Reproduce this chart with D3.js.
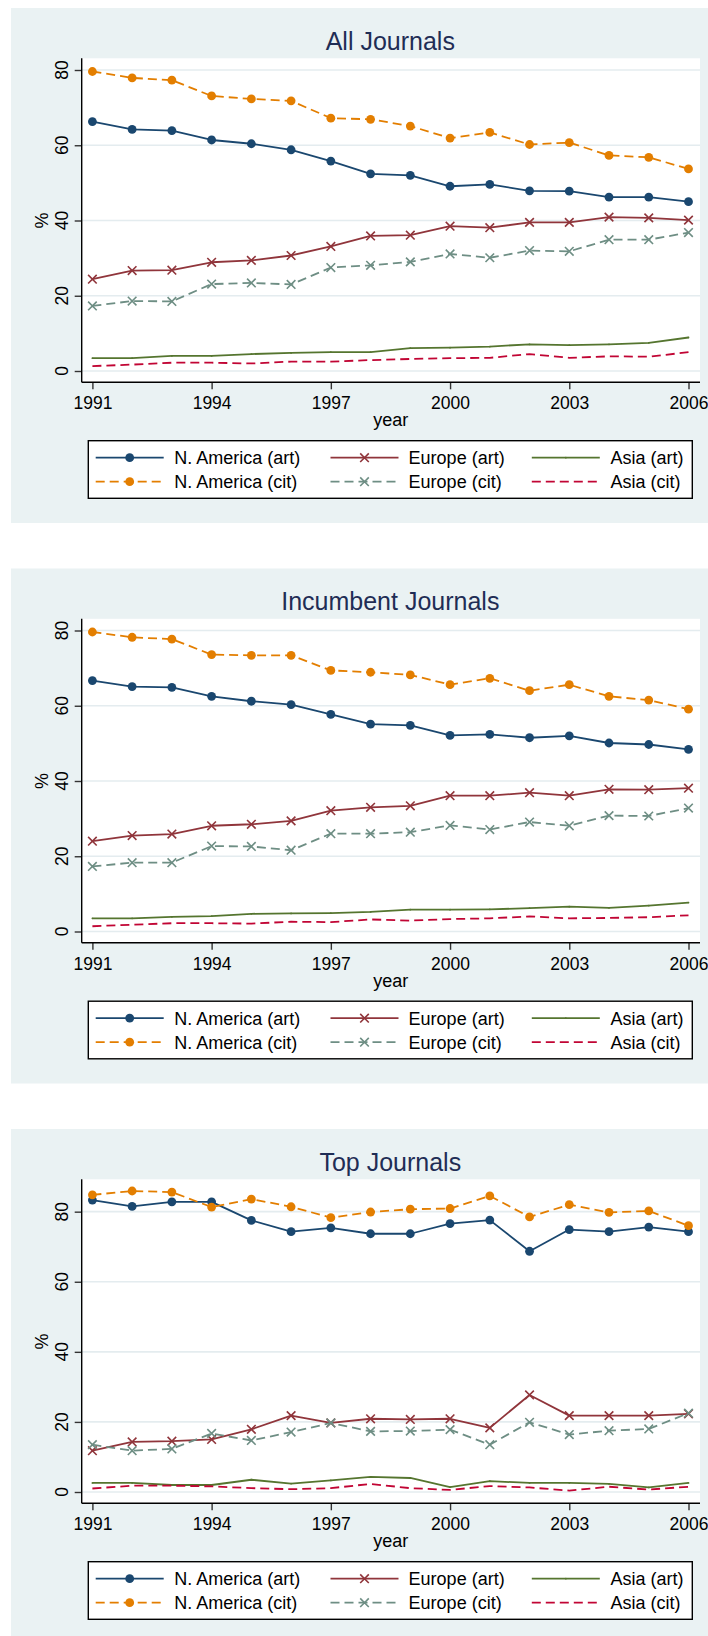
<!DOCTYPE html>
<html>
<head>
<meta charset="utf-8">
<script src="https://cdn.jsdelivr.net/npm/d3@7"></script>
<style>
  html, body { margin: 0; padding: 0; background: #ffffff; }
  svg { display: block; }
  text { font-family: "Liberation Sans", Arial, sans-serif; }
</style>
</head>
<body>
<svg id="chart" width="708" height="1636"></svg>
<script>
// ---------------- DATA ----------------
const years = [1991,1992,1993,1994,1995,1996,1997,1998,1999,2000,2001,2002,2003,2004,2005,2006];
const xTickYears = [1991,1994,1997,2000,2003,2006];
const yTicks = [0,20,40,60,80];
const panelTitles = ["All Journals", "Incumbent Journals", "Top Journals"];
const seriesNames = ["N. America (art)", "Europe (art)", "Asia (art)", "N. America (cit)", "Europe (cit)", "Asia (cit)"];

// All Journals
const allNAart = [66.3,64.2,63.9,61.4,60.4,58.8,55.8,52.4,52.0,49.1,49.6,47.9,47.8,46.2,46.2,45.0];
const allEUart = [24.4,26.7,26.8,28.9,29.4,30.7,33.1,35.9,36.1,38.5,38.1,39.5,39.5,40.9,40.7,40.1];
const allASart = [3.4,3.4,4.0,4.0,4.5,4.8,5.0,5.0,6.1,6.2,6.5,7.1,6.9,7.1,7.5,8.9];
const allNAcit = [79.6,77.9,77.3,73.1,72.3,71.8,67.2,66.9,65.1,61.9,63.4,60.2,60.7,57.3,56.8,53.7];
const allEUcit = [17.3,18.6,18.5,23.1,23.4,23.0,27.5,28.1,29.0,31.1,30.1,32.0,31.8,34.9,34.9,36.8];
const allAScit = [1.3,1.7,2.2,2.2,2.0,2.5,2.5,2.9,3.2,3.4,3.5,4.5,3.5,3.9,3.8,5.0];

// Incumbent Journals
const incNAart = [66.7,65.1,64.9,62.5,61.2,60.3,57.7,55.1,54.8,52.1,52.4,51.5,52.0,50.1,49.7,48.4];
const incEUart = [24.0,25.5,25.9,28.1,28.5,29.4,32.1,33.0,33.4,36.1,36.1,36.9,36.1,37.8,37.7,38.1];
const incASart = [3.5,3.5,3.9,4.1,4.7,4.8,4.9,5.2,5.8,5.8,5.9,6.2,6.6,6.3,6.9,7.7];
const incNAcit = [79.6,78.2,77.7,73.6,73.4,73.4,69.4,68.9,68.2,65.6,67.3,64.0,65.6,62.5,61.5,59.1];
const incEUcit = [17.3,18.3,18.3,22.7,22.6,21.6,26.0,26.0,26.4,28.2,27.1,29.1,28.1,30.8,30.7,32.8];
const incAScit = [1.4,1.8,2.2,2.2,2.1,2.6,2.5,3.2,2.9,3.3,3.5,4.0,3.5,3.6,3.8,4.3];

// Top Journals
const topNAart = [83.3,81.5,82.8,82.8,77.5,74.3,75.4,73.7,73.7,76.6,77.6,68.7,74.9,74.3,75.6,74.3];
const topEUart = [11.8,14.3,14.5,15.0,17.9,21.8,19.7,20.9,20.7,20.9,18.3,27.7,21.8,21.8,21.8,22.3];
const topASart = [2.6,2.6,2.0,2.0,3.5,2.4,3.3,4.3,4.0,1.4,3.1,2.6,2.6,2.3,1.3,2.6];
const topNAcit = [84.8,85.9,85.6,81.3,83.6,81.4,78.3,79.9,80.7,80.9,84.5,78.5,82.0,79.8,80.2,76.0];
const topEUcit = [13.5,11.8,12.3,16.7,14.7,17.1,19.7,17.3,17.4,17.8,13.5,19.9,16.4,17.5,18.0,22.5];
const topAScit = [1.0,1.8,1.8,1.6,1.1,0.8,1.1,2.3,1.1,0.6,1.7,1.3,0.4,1.5,0.7,1.5];

// ---------------- STYLE ----------------
const styles = [
  { color: "#1a476f", dash: null,  marker: "circle" },
  { color: "#90353b", dash: null,  marker: "x" },
  { color: "#55752f", dash: null,  marker: "point" },
  { color: "#e37e00", dash: "9,5", marker: "circle" },
  { color: "#6e8e84", dash: "9,5", marker: "x" },
  { color: "#c10534", dash: "9,5", marker: "none" }
];

const panels = [
  { title: panelTitles[0], series: [allNAart, allEUart, allASart, allNAcit, allEUcit, allAScit] },
  { title: panelTitles[1], series: [incNAart, incEUart, incASart, incNAcit, incEUcit, incAScit] },
  { title: panelTitles[2], series: [topNAart, topEUart, topASart, topNAcit, topEUcit, topAScit] }
];

const svg = d3.select("#chart");
const panelStep = 560.5;
const font = 17.5;

function drawMarker(g, type, cx, cy, color) {
  if (type === "circle") {
    g.append("circle").attr("cx", cx).attr("cy", cy).attr("r", 4.4).attr("fill", color);
  } else if (type === "x") {
    const s = 4.3;
    g.append("path")
      .attr("d", `M${cx - s},${cy - s}L${cx + s},${cy + s}M${cx - s},${cy + s}L${cx + s},${cy - s}`)
      .attr("stroke", color).attr("stroke-width", 1.6).attr("fill", "none");
  } else if (type === "point") {
    g.append("circle").attr("cx", cx).attr("cy", cy).attr("r", 0.9).attr("fill", color);
  }
}

panels.forEach((p, i) => {
  const oy = i * panelStep;
  const g = svg.append("g");

  // background
  g.append("rect").attr("x", 11).attr("y", oy + 8).attr("width", 700).attr("height", 515)
    .attr("fill", "#eaf2f3");

  const px0 = 81.7, px1 = 700, py0 = oy + 58.3, py1 = oy + 382.3;
  g.append("rect").attr("x", px0).attr("y", py0).attr("width", px1 - px0).attr("height", py1 - py0)
    .attr("fill", "#ffffff");

  // title
  g.append("text").attr("x", 390.3).attr("y", oy + 49.5).attr("text-anchor", "middle")
    .attr("font-size", 25).attr("fill", "#1f2d55").text(p.title);

  const dataMax = d3.max(p.series.flat());
  const x = d3.scaleLinear().domain([years[0], years[years.length - 1]]).range([92.4, 688.5]);
  const y = d3.scaleLinear().domain([0, Math.max(80, dataMax)]).range([oy + 371, oy + 70]);

  // gridlines
  g.selectAll(null).data(yTicks).enter().append("line")
    .attr("x1", px0).attr("x2", px1)
    .attr("y1", d => y(d)).attr("y2", d => y(d))
    .attr("stroke", "#e4ecef").attr("stroke-width", 1.6);

  // y axis
  const yAxis = d3.axisLeft(y).tickValues(yTicks).tickSize(7).tickFormat(d3.format("d"));
  const ya = g.append("g").attr("transform", `translate(${px0},0)`).call(yAxis);
  ya.select(".domain").remove();
  ya.selectAll(".tick line").attr("stroke", "#333").attr("stroke-width", 1.4);
  ya.selectAll(".tick text").remove();
  g.selectAll(null).data(yTicks).enter().append("text")
    .attr("transform", d => `translate(68.3,${y(d)}) rotate(-90)`)
    .attr("text-anchor", "middle").attr("font-size", font).attr("fill", "#000")
    .text(d => d);
  g.append("line").attr("x1", px0).attr("x2", px0).attr("y1", py0).attr("y2", py1)
    .attr("stroke", "#000").attr("stroke-width", 1.4);

  // x axis
  const xAxis = d3.axisBottom(x).tickValues(xTickYears).tickSize(7).tickFormat(d3.format("d"));
  const xa = g.append("g").attr("transform", `translate(0,${py1})`).call(xAxis);
  xa.select(".domain").remove();
  xa.selectAll(".tick line").attr("stroke", "#333").attr("stroke-width", 1.4);
  xa.selectAll(".tick text").attr("font-size", font).attr("fill", "#000")
    .attr("font-family", "Liberation Sans, Arial, sans-serif").attr("dy", null).attr("y", 27);
  g.append("line").attr("x1", px0).attr("x2", px1).attr("y1", py1).attr("y2", py1)
    .attr("stroke", "#000").attr("stroke-width", 1.4);

  // axis titles
  g.append("text").attr("x", 390.8).attr("y", oy + 426).attr("text-anchor", "middle")
    .attr("font-size", 18).attr("fill", "#000").text("year");
  g.append("text").attr("transform", `translate(47.5,${oy + 220.5}) rotate(-90)`)
    .attr("text-anchor", "middle").attr("font-size", 18).attr("fill", "#000").text("%");

  // series
  const line = d3.line().x((d, j) => x(years[j])).y(d => y(d));
  p.series.forEach((vals, k) => {
    const st = styles[k];
    const sg = g.append("g");
    sg.append("path").datum(vals).attr("d", line)
      .attr("fill", "none").attr("stroke", st.color).attr("stroke-width", 1.8)
      .attr("stroke-dasharray", st.dash).attr("stroke-linejoin", "round");
    vals.forEach((v, j) => drawMarker(sg, st.marker, x(years[j]), y(v), st.color));
  });

  // legend
  const lx0 = 88.3, lx1 = 692.3, ly0 = oy + 440.7, ly1 = oy + 498.3;
  g.append("rect").attr("x", lx0).attr("y", ly0).attr("width", lx1 - lx0).attr("height", ly1 - ly0)
    .attr("fill", "#ffffff").attr("stroke", "#000").attr("stroke-width", 1.4);
  const colKey = [95.7, 330.5, 531.8];
  const colText = [174.3, 408.6, 610.5];
  const rowY = [oy + 457.7, oy + 481.7];
  seriesNames.forEach((name, k) => {
    const st = styles[k];
    const col = k % 3, row = Math.floor(k / 3);
    const cy = rowY[row];
    g.append("line").attr("x1", colKey[col]).attr("x2", colKey[col] + 68)
      .attr("y1", cy).attr("y2", cy)
      .attr("stroke", st.color).attr("stroke-width", 1.8).attr("stroke-dasharray", st.dash);
    drawMarker(g, st.marker, colKey[col] + 34, cy, st.color);
    g.append("text").attr("x", colText[col]).attr("y", cy + 6.5)
      .attr("font-size", 18).attr("fill", "#000").text(name);
  });
});
</script>
</body>
</html>
